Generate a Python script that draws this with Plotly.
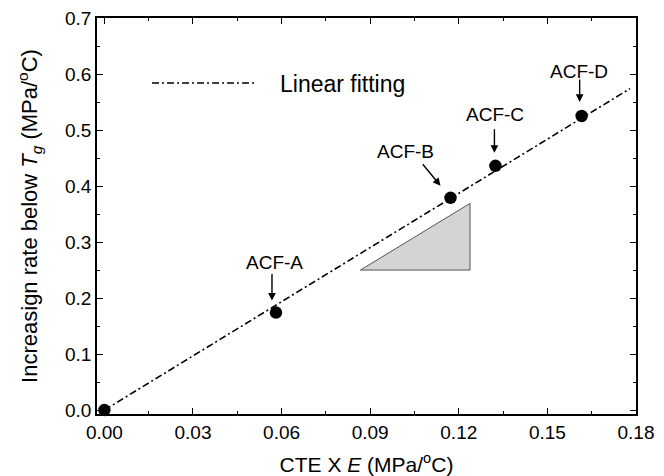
import plotly.graph_objects as go

# data
names = ["", "ACF-A", "ACF-B", "ACF-C", "ACF-D"]
cte_e = [0.0, 0.0581, 0.1172, 0.1324, 0.1616]
rate = [0.0, 0.174, 0.379, 0.436, 0.525]
fit_x = [0.0, 0.178]
fit_y = [0.0, 0.574]
tri_x = [0.0867, 0.1238, 0.1238, 0.0867]
tri_y = [0.25, 0.25, 0.369, 0.25]
xticks = [0.00, 0.03, 0.06, 0.09, 0.12, 0.15, 0.18]
yticks = [0.0, 0.1, 0.2, 0.3, 0.4, 0.5, 0.6, 0.7]

FONT = "Liberation Sans, Arial, sans-serif"
DASH = "7px,3px,2px,3px"

fig = go.Figure()
fig.add_trace(go.Scatter(x=tri_x, y=tri_y, mode="lines", fill="toself",
                         fillcolor="#d4d4d4", line=dict(color="#555555", width=1),
                         hoverinfo="skip", showlegend=False))
fig.add_trace(go.Scatter(x=fit_x, y=fit_y, mode="lines",
                         line=dict(color="black", width=1.6, dash=DASH),
                         showlegend=False))
fig.add_trace(go.Scatter(x=cte_e, y=rate, mode="markers",
                         marker=dict(color="black", size=12.5),
                         cliponaxis=False, showlegend=False))

# labels with arrows (offsets in pixels relative to points)
label_off = {"ACF-A": (-1, -50), "ACF-B": (-45, -46), "ACF-C": (0, -51), "ACF-D": (-3, -45)}
arrow_tail = {"ACF-A": (-4, -40), "ACF-B": (-29, -35), "ACF-C": (-1, -38), "ACF-D": (-2, -38)}
arrow_tip = {"ACF-A": (-4, -12), "ACF-B": (-10, -12), "ACF-C": (-1, -13), "ACF-D": (-2, -14)}

for n, xv, yv in zip(names, cte_e, rate):
    if not n:
        continue
    dx, dy = label_off[n]
    fig.add_annotation(x=xv, y=yv, text=n, showarrow=True, arrowcolor="rgba(0,0,0,0)",
                       ax=dx, ay=dy, font=dict(family=FONT, size=19, color="black"))
    tx, ty = arrow_tail[n]
    hx, hy = arrow_tip[n]
    fig.add_annotation(x=xv, y=yv, xshift=hx, yshift=-hy, text="", showarrow=True,
                       arrowhead=2, arrowsize=1.1, arrowwidth=1.4, arrowcolor="black",
                       ax=tx - hx, ay=ty - hy, standoff=0)

# legend sample
fig.add_shape(type="line", xref="paper", yref="paper",
              x0=(152 - 97) / 538.6, x1=(256 - 97) / 538.6,
              y0=(414 - 83) / 396, y1=(414 - 83) / 396,
              line=dict(color="black", width=1.6, dash=DASH))
fig.add_annotation(xref="paper", yref="paper", x=(278 - 97) / 538.6, y=(414 - 84) / 396,
                   xanchor="left", yanchor="middle", text="Linear fitting", showarrow=False,
                   font=dict(family=FONT, size=23, color="black"))

axis_common = dict(showline=True, linecolor="black", linewidth=1.5, mirror="ticks",
                   ticks="inside", ticklen=6, tickwidth=1.2, tickcolor="black",
                   showgrid=False, zeroline=False,
                   tickfont=dict(family=FONT, size=19, color="black"))

fig.update_xaxes(range=[-0.0025, 0.18], tickvals=xticks,
                 ticktext=[f"{v:.2f}" for v in xticks],
                 minor=dict(ticks="inside", ticklen=3, tickwidth=1.2, tickcolor="black", dtick=0.015, tick0=0),
                 title=dict(text="CTE X <i>E</i> (MPa/<sup>o</sup>C)", standoff=17,
                            font=dict(family=FONT, size=21, color="black")),
                 **axis_common)
fig.update_yaxes(range=[-0.007, 0.7], tickvals=yticks,
                 ticktext=[f"{v:.1f}" for v in yticks],
                 minor=dict(ticks="inside", ticklen=3, tickwidth=1.2, tickcolor="black", dtick=0.05, tick0=0),
                 title=dict(text="Increasign rate below <i>T<sub>g</sub></i> (MPa/<sup>o</sup>C)", standoff=21,
                            font=dict(family=FONT, size=22, color="black")),
                 **axis_common)

fig.update_layout(width=664, height=476, margin=dict(l=97, r=28, t=18, b=62, autoexpand=False),
                  plot_bgcolor="white", paper_bgcolor="white", showlegend=False)

fig.write_html("out.html")
